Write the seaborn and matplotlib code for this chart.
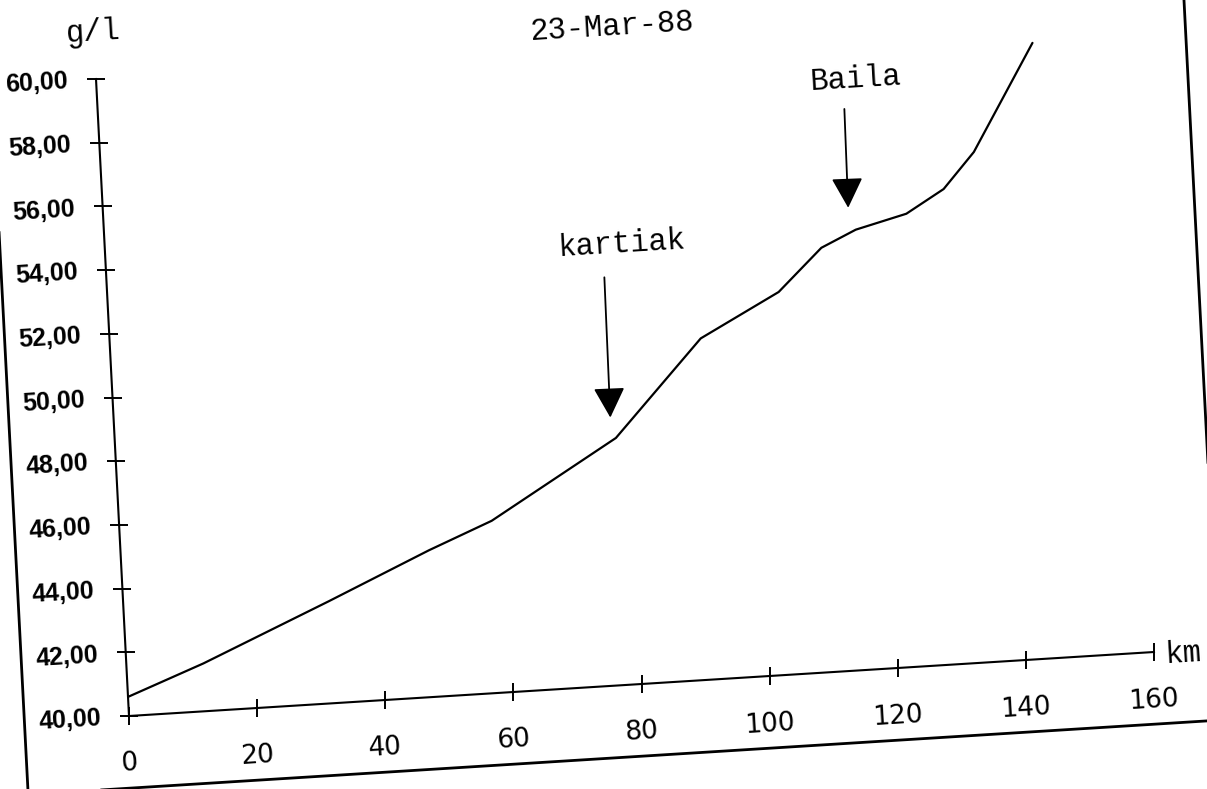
import numpy as np
import matplotlib
matplotlib.use("Agg")
import matplotlib.pyplot as plt
import matplotlib.transforms as mtransforms
from matplotlib.patches import Rectangle
from matplotlib import font_manager
import seaborn as sns

# ---------------- data ----------------
km = [0, 12, 32, 48, 58, 78, 92, 104.5, 111.5, 117, 125, 131, 136, 146]
salinity = [40.6, 41.5, 43.2, 44.6, 45.4, 47.75, 50.7, 52.0, 53.3, 53.8, 54.2, 54.9, 56.0, 59.3]

x_ticks = [0, 20, 40, 60, 80, 100, 120, 140, 160]
x_tick_labels = ["0", "20", "40", "60", "80", "100", "120", "140", "160"]
y_ticks = [40, 42, 44, 46, 48, 50, 52, 54, 56, 58, 60]
y_tick_labels = ["40,00", "42,00", "44,00", "46,00", "48,00", "50,00",
                 "52,00", "54,00", "56,00", "58,00", "60,00"]

title = "23-Mar-88"
y_unit = "g/l"
x_unit = "km"

place_names = ["kartiak", "Baila"]
arrow_km = [77.3, 116.0]
arrow_tip = [48.4, 54.5]
arrow_tail = [52.8, 57.6]
label_km = [80.5, 118.2]
label_val = [53.8, 58.5]

# ---------------- style ----------------
sns.set_style("white")
avail = {f.name for f in font_manager.fontManager.ttflist}
if "Liberation Sans Narrow" in avail:
    narrow, ysize = "Liberation Sans Narrow", 20
elif "Liberation Sans" in avail:
    narrow, ysize = "Liberation Sans", 18
else:
    narrow, ysize = "DejaVu Sans", 15
mono = "Liberation Mono" if "Liberation Mono" in avail else "DejaVu Sans Mono"
plt.rcParams["font.family"] = ["DejaVu Sans"]
plt.rcParams["text.color"] = "black"

W, H = 1207, 789
fig = plt.figure(figsize=(W / 100, H / 100), dpi=100)
fig.patch.set_facecolor("white")
ax = fig.add_axes([129 / W, 73 / H, 1025 / W, 637 / H])

# slightly rotated (scanned) axes frame
O = (129.0, 73.0)
A = (1025.0, 64.0)
B = (-33.0, 637.0)
M = np.array([[A[0], B[0], O[0]], [A[1], B[1], O[1]], [0.0, 0.0, 1.0]])
ax.transAxes = mtransforms.Affine2D(M)
ax.transData = ax.transScale + (ax.transLimits + ax.transAxes)
lim = ax.transScale + ax.transLimits
ax._xaxis_transform = mtransforms.blended_transform_factory(lim, mtransforms.IdentityTransform()) + ax.transAxes
ax._yaxis_transform = mtransforms.blended_transform_factory(mtransforms.IdentityTransform(), lim) + ax.transAxes
ax.patch.set_transform(ax.transAxes)
ax.patch.set_facecolor("none")
for sp in ax.spines.values():
    sp.set_position(("outward", 0))

ROT = 3.5

sns.lineplot(x=km, y=salinity, ax=ax, color="black", linewidth=1.6, clip_on=False)

ax.set_xlim(0, 160)
ax.set_ylim(40, 60)
ax.set_autoscale_on(False)
ax.set_xticks(x_ticks, x_tick_labels)
ax.set_yticks(y_ticks, y_tick_labels)
ax.set_xlabel("")
ax.set_ylabel("")
ax.grid(False)

ax.spines["top"].set_visible(False)
ax.spines["right"].set_visible(False)
for s in ("left", "bottom"):
    ax.spines[s].set_linewidth(1.5)
    ax.spines[s].set_color("black")

ax.tick_params(axis="both", which="major", direction="inout", length=13, width=1.4,
               color="black", labelcolor="black",
               bottom=True, left=True, top=False, right=False)
ax.tick_params(axis="x", pad=18, labelsize=19, labelrotation=ROT)
ax.tick_params(axis="y", pad=13, labelsize=ysize, labelrotation=ROT)
for lab in ax.get_yticklabels():
    lab.set_fontfamily(narrow)
    lab.set_fontweight("bold")

# units and title
txt = dict(family=mono, fontsize=22, color="black", rotation=ROT,
           transform=ax.transAxes, ha="center", va="center")
ax.text(0.505, 1.031, title, **txt)
ax.text(0.0, 1.074, y_unit, **txt)
ax.text(1.028, -0.006, x_unit, **txt)

# place annotations
for name, xk, tip, tail, lx, ly in zip(place_names, arrow_km, arrow_tip, arrow_tail, label_km, label_val):
    ax.annotate("", xy=(xk, tip), xytext=(xk + 0.2, tail),
                arrowprops=dict(arrowstyle="-|>,head_length=0.94,head_width=0.49",
                                mutation_scale=20, color="black", lw=1.3,
                                shrinkA=0, shrinkB=0))
    ax.text(lx, ly, name, family=mono, fontsize=22, color="black",
            rotation=ROT, ha="center", va="center")

# page frame around the chart (scanned document border)
frame = Rectangle((-0.102, -0.113), 1.164, 1.4, transform=ax.transAxes,
                  fill=False, edgecolor="black", linewidth=2.0, clip_on=False)
fig.add_artist(frame)

fig.savefig("out.png", dpi=100, facecolor="white")
